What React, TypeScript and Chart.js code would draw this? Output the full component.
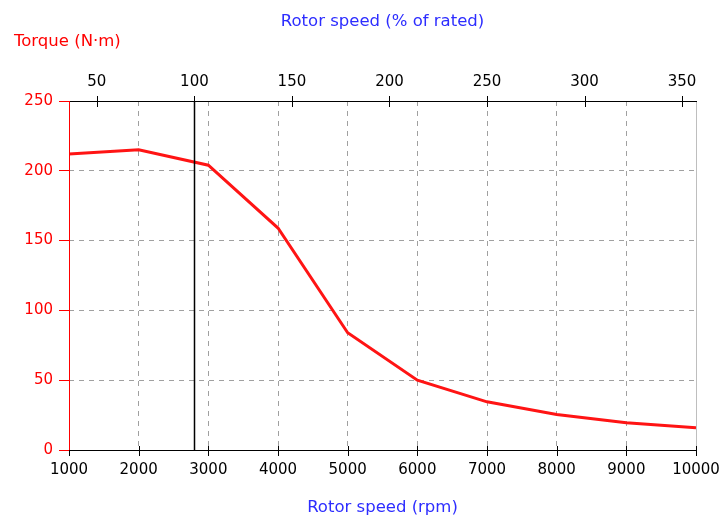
import React, { useEffect, useRef } from "react";
import { Chart, registerables } from "chart.js";

Chart.register(...registerables);

const rpm = [1000, 2000, 3000, 4000, 5000, 6000, 7000, 8000, 9000, 10000];
const torque = [212, 215, 204, 159, 84, 50, 34.5, 25.5, 19.5, 16];
const ratedSpeed = 2800;
const percentTicks = [50, 100, 150, 200, 250, 300, 350];
const yTicks = [0, 50, 100, 150, 200, 250];

const FONT = "'DejaVu Sans', sans-serif";
const BLUE = "rgb(45,45,255)";
const RED = "rgb(255,0,0)";
const GRID = "rgb(160,160,160)";

const overlay = {
  id: "overlay",
  afterDraw(chart: any) {
    const { ctx, chartArea: a, scales } = chart;
    const xs = scales.x;
    const x2 = scales.x2;
    ctx.save();
    // right border
    ctx.strokeStyle = "rgb(190,190,190)";
    ctx.lineWidth = 1;
    ctx.beginPath();
    ctx.moveTo(Math.round(a.right) + 0.5, a.top);
    ctx.lineTo(Math.round(a.right) + 0.5, a.bottom);
    ctx.stroke();
    // rated speed line
    const xr = Math.round(xs.getPixelForValue(ratedSpeed)) + 0.5;
    ctx.strokeStyle = "#000";
    ctx.lineWidth = 1.5;
    ctx.beginPath();
    ctx.moveTo(xr, a.top);
    ctx.lineTo(xr, a.bottom);
    ctx.stroke();
    // top & bottom axis lines
    ctx.lineWidth = 1;
    ctx.strokeStyle = "#000";
    ctx.beginPath();
    ctx.moveTo(a.left, Math.round(a.top) + 0.5);
    ctx.lineTo(a.right + 1, Math.round(a.top) + 0.5);
    ctx.moveTo(a.left, Math.round(a.bottom) + 0.5);
    ctx.lineTo(a.right + 1, Math.round(a.bottom) + 0.5);
    // crossing ticks
    rpm.forEach((v) => {
      const px = Math.round(xs.getPixelForValue(v)) + 0.5;
      ctx.moveTo(px, a.bottom - 4);
      ctx.lineTo(px, a.bottom + 6);
    });
    percentTicks.forEach((v) => {
      const px = Math.round(x2.getPixelForValue(v)) + 0.5;
      ctx.moveTo(px, a.top - 5);
      ctx.lineTo(px, a.top + 6);
    });
    ctx.stroke();
    // left axis red
    ctx.strokeStyle = RED;
    ctx.lineWidth = 1;
    ctx.beginPath();
    ctx.moveTo(Math.round(a.left) + 0.5, a.top);
    ctx.lineTo(Math.round(a.left) + 0.5, a.bottom);
    ctx.stroke();
    // titles
    const cx = (a.left + a.right) / 2;
    ctx.font = `16.5px ${FONT}`;
    ctx.textBaseline = "alphabetic";
    ctx.fillStyle = BLUE;
    ctx.textAlign = "center";
    ctx.fillText("Rotor speed (% of rated)", cx, 26);
    ctx.fillText("Rotor speed (rpm)", cx, 512);
    ctx.fillStyle = RED;
    ctx.textAlign = "left";
    ctx.fillText("Torque (N·m)", 14, 46);
    ctx.restore();
  },
};

export default function App() {
  const ref = useRef<HTMLCanvasElement | null>(null);
  useEffect(() => {
    document.body.style.margin = "0";
    const canvas = ref.current!;
    const chart = new Chart(canvas, {
      type: "line",
      data: {
        datasets: [
          {
            data: rpm.map((r, i) => ({ x: r, y: torque[i] })),
            borderColor: "rgb(255,20,20)",
            borderWidth: 3,
            pointRadius: 0,
            tension: 0,
            fill: false,
            xAxisID: "x",
            yAxisID: "y",
          },
        ],
      },
      options: {
        responsive: false,
        animation: false,
        maintainAspectRatio: false,
        layout: { padding: { left: 0, right: 23, top: 0, bottom: 0 } },
        plugins: { legend: { display: false }, tooltip: { enabled: false } },
        scales: {
          x: {
            type: "linear",
            position: "bottom",
            min: rpm[0],
            max: rpm[rpm.length - 1],
            afterBuildTicks: (s: any) => {
              s.ticks = rpm.map((v) => ({ value: v }));
            },
            afterFit: (s: any) => {
              s.height = 66;
              s.paddingLeft = 0;
              s.paddingRight = 0;
            },
            ticks: {
              autoSkip: false,
              maxRotation: 0,
              padding: 11,
              color: "#000",
              font: { family: FONT, size: 15 },
              callback: (v: any) => String(v),
            },
            grid: {
              drawTicks: false,
              color: (c: any) =>
                c.tick && (c.tick.value === rpm[0] || c.tick.value === rpm[rpm.length - 1])
                  ? "rgba(0,0,0,0)"
                  : GRID,
              lineWidth: 1,
            },
            border: { display: false, dash: [5, 5] },
          },
          x2: {
            type: "linear",
            position: "top",
            min: (rpm[0] / ratedSpeed) * 100,
            max: (rpm[rpm.length - 1] / ratedSpeed) * 100,
            afterBuildTicks: (s: any) => {
              s.ticks = percentTicks.map((v) => ({ value: v }));
            },
            afterFit: (s: any) => {
              s.height = 101;
              s.paddingLeft = 0;
              s.paddingRight = 0;
            },
            ticks: {
              autoSkip: false,
              maxRotation: 0,
              padding: 10,
              color: "#000",
              font: { family: FONT, size: 15 },
              callback: (v: any) => String(v),
            },
            grid: { drawTicks: false, drawOnChartArea: false },
            border: { display: false },
          },
          y: {
            type: "linear",
            position: "left",
            min: 0,
            max: 250,
            afterBuildTicks: (s: any) => {
              s.ticks = yTicks.map((v) => ({ value: v }));
            },
            afterFit: (s: any) => {
              s.width = 69;
              s.paddingTop = 0;
              s.paddingBottom = 0;
            },
            ticks: {
              padding: 6,
              color: RED,
              font: { family: FONT, size: 15 },
              callback: (v: any) => String(v),
            },
            grid: {
              drawTicks: true,
              tickLength: 10,
              tickColor: RED,
              tickWidth: 1,
              color: (c: any) =>
                c.tick && (c.tick.value === 0 || c.tick.value === 250) ? "rgba(0,0,0,0)" : GRID,
              lineWidth: 1,
            },
            border: { display: false, dash: [5, 5] },
          },
        },
      } as any,
      plugins: [overlay],
    });
    return () => chart.destroy();
  }, []);
  return (
    <div style={{ width: 719, height: 516, background: "#fff" }}>
      <canvas ref={ref} width={719} height={516} style={{ display: "block" }} />
    </div>
  );
}
